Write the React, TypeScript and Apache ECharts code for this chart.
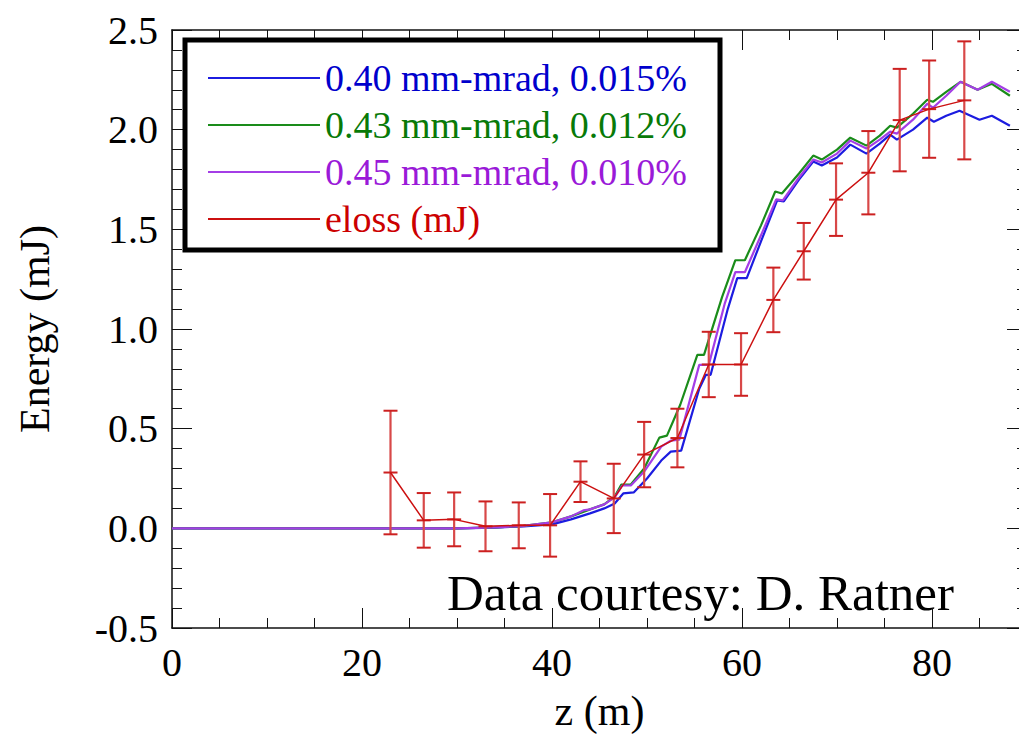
import React, { useEffect, useRef } from "react";
import * as echarts from "echarts";

const xTickLabels = ["0", "20", "40", "60", "80"];

// 0.40 mm-mrad, 0.015%
const zBlue = [0, 30, 34, 37, 40, 42, 44, 45.5, 46.6, 47.5, 48.6, 50.0, 51.5, 52.5, 53.6, 55.5, 56.2, 56.7, 58.5, 59.5, 60.5, 62.0, 63.7, 64.4, 66.0, 67.5, 68.4, 70.0, 71.4, 73.1, 74.5, 75.6, 76.3, 78.0, 79.5, 80.2, 81.5, 82.9, 85.0, 86.3, 88.2];
const eBlue = [0, 0, 0.004, 0.01, 0.02, 0.045, 0.075, 0.10, 0.125, 0.175, 0.18, 0.25, 0.34, 0.385, 0.39, 0.70, 0.77, 0.77, 1.10, 1.255, 1.255, 1.44, 1.645, 1.64, 1.75, 1.84, 1.82, 1.86, 1.925, 1.88, 1.93, 1.975, 1.95, 2.00, 2.06, 2.04, 2.07, 2.095, 2.05, 2.07, 2.02];

// 0.43 mm-mrad, 0.012%
const zGreen = [0, 30, 34, 37, 40, 42, 44, 45.5, 46.6, 47.3, 48.3, 49.7, 51.3, 52.1, 53.5, 55.3, 56.0, 57.9, 59.3, 60.3, 62.0, 63.5, 64.2, 66.0, 67.5, 68.4, 70.0, 71.4, 73.1, 74.5, 75.6, 76.3, 78.0, 79.5, 80.1, 81.5, 83.0, 84.8, 86.3, 88.2];
const eGreen = [0, 0, 0.005, 0.012, 0.03, 0.06, 0.095, 0.12, 0.16, 0.22, 0.22, 0.30, 0.455, 0.465, 0.62, 0.87, 0.87, 1.16, 1.345, 1.345, 1.52, 1.69, 1.68, 1.78, 1.87, 1.85, 1.90, 1.96, 1.92, 1.97, 2.02, 2.01, 2.08, 2.15, 2.14, 2.19, 2.24, 2.20, 2.23, 2.17];

// 0.45 mm-mrad, 0.010%
const zPurple = [0, 30, 34, 37, 40, 42, 43.3, 44.0, 45.5, 46.6, 47.4, 48.3, 49.7, 51.5, 52.5, 53.4, 55.5, 56.5, 58.2, 59.3, 60.3, 62.0, 63.6, 64.3, 66.0, 67.5, 68.4, 70.0, 71.4, 73.1, 74.5, 75.6, 76.3, 78.0, 79.5, 80.1, 81.5, 83.0, 84.8, 86.3, 88.2];
const ePurple = [0, 0, 0.005, 0.012, 0.03, 0.06, 0.09, 0.095, 0.12, 0.155, 0.215, 0.215, 0.285, 0.41, 0.44, 0.445, 0.82, 0.82, 1.13, 1.285, 1.285, 1.47, 1.65, 1.645, 1.76, 1.85, 1.835, 1.88, 1.945, 1.905, 1.95, 1.99, 1.98, 2.05, 2.13, 2.11, 2.17, 2.24, 2.20, 2.24, 2.19];

// eloss (mJ) with error bars
const zLoss = [23.0, 26.5, 29.7, 33.0, 36.5, 39.8, 43.0, 46.5, 49.7, 53.2, 56.5, 59.9, 63.3, 66.5, 69.9, 73.3, 76.6, 79.7, 83.4];
const eLoss = [0.28, 0.04, 0.045, 0.01, 0.015, 0.015, 0.234, 0.15, 0.37, 0.453, 0.822, 0.822, 1.146, 1.39, 1.649, 1.784, 2.048, 2.103, 2.147];
const errLoss = [0.31, 0.137, 0.135, 0.125, 0.115, 0.157, 0.102, 0.174, 0.164, 0.147, 0.164, 0.157, 0.162, 0.142, 0.182, 0.209, 0.257, 0.244, 0.296];

const names = ["0.40 mm-mrad, 0.015%", "0.43 mm-mrad, 0.012%", "0.45 mm-mrad, 0.010%", "eloss (mJ)"];
const lineColors = ["#1c1ce0", "#1a8c1a", "#a43ee6", "#cc1010"];
const textColors = ["#0000cc", "#087a08", "#9a1ad8", "#cc0000"];

const zip = (a: number[], b: number[]) => a.map((v, i) => [v, b[i]]);

const FONT = "Liberation Serif";

export default function App() {
  const ref = useRef<HTMLDivElement>(null);
  useEffect(() => {
    if (!ref.current) return;
    const chart = echarts.init(ref.current, undefined, { renderer: "svg" });
    const axisLine = { show: true, onZero: false, lineStyle: { color: "#111", width: 1.5 } };
    const xCommon = {
      type: "value" as const,
      min: 0,
      max: 90,
      interval: 20,
      axisLine,
      axisTick: { show: true, inside: true, length: 20, lineStyle: { color: "#111", width: 1 } },
      minorTick: { show: true, splitNumber: 4, length: 10, lineStyle: { color: "#111", width: 1 } },
      splitLine: { show: false },
      minorSplitLine: { show: false },
    };
    const yCommon = {
      type: "value" as const,
      min: -0.5,
      max: 2.5,
      interval: 0.5,
      axisLine,
      axisTick: { show: true, inside: true, length: 20, lineStyle: { color: "#111", width: 1 } },
      minorTick: { show: true, splitNumber: 5, length: 10, lineStyle: { color: "#111", width: 1 } },
      splitLine: { show: false },
      minorSplitLine: { show: false },
    };
    const errData = zLoss.map((z, i) => [z, eLoss[i], errLoss[i]]);
    chart.setOption({
      animation: false,
      backgroundColor: "#fff",
      grid: { left: 172, top: 30, right: 3, bottom: 104, containLabel: false },
      xAxis: [
        {
          ...xCommon,
          position: "bottom",
          name: "z (m)",
          nameLocation: "middle",
          nameGap: 62,
          nameTextStyle: { fontFamily: FONT, fontSize: 42, color: "#000" },
          axisLabel: {
            fontFamily: FONT,
            fontSize: 40,
            color: "#000",
            margin: 14,
            showMaxLabel: false,
            formatter: (v: number) => {
              const idx = Math.round(v / 20);
              return v % 20 === 0 && idx < xTickLabels.length ? xTickLabels[idx] : "";
            },
          },
        },
        { ...xCommon, position: "top", axisLabel: { show: false } },
      ],
      yAxis: [
        {
          ...yCommon,
          position: "left",
          name: "Energy (mJ)",
          nameLocation: "middle",
          nameGap: 116,
          nameTextStyle: { fontFamily: FONT, fontSize: 42, color: "#000" },
          axisLabel: {
            fontFamily: FONT,
            fontSize: 40,
            color: "#000",
            margin: 14,
            formatter: (v: number) => v.toFixed(1),
          },
        },
        { ...yCommon, position: "right", axisLabel: { show: false } },
      ],
      legend: {
        orient: "vertical",
        left: 185,
        top: 40,
        padding: [19, 33, 12, 23],
        itemGap: 9,
        itemWidth: 112,
        itemHeight: 2,
        itemTextGap: 20,
        icon: "rect",
        backgroundColor: "#fff",
        borderColor: "#000",
        borderWidth: 5,
        textStyle: { fontFamily: FONT, fontSize: 38 },
        data: names.map((n, i) => ({ name: n, textStyle: { color: textColors[i] } })),
      },
      series: [
        {
          name: names[0], type: "line", symbol: "none", data: zip(zBlue, eBlue),
          lineStyle: { color: lineColors[0], width: 2.2 }, itemStyle: { color: lineColors[0] }, z: 3,
        },
        {
          name: names[1], type: "line", symbol: "none", data: zip(zGreen, eGreen),
          lineStyle: { color: lineColors[1], width: 2.2 }, itemStyle: { color: lineColors[1] }, z: 3,
        },
        {
          name: names[2], type: "line", symbol: "none", data: zip(zPurple, ePurple),
          lineStyle: { color: lineColors[2], width: 2.2 }, itemStyle: { color: lineColors[2] }, z: 3,
        },
        {
          name: names[3], type: "line", symbol: "none", data: zip(zLoss, eLoss),
          lineStyle: { color: lineColors[3], width: 1.5 }, itemStyle: { color: lineColors[3] }, z: 4,
        },
        {
          name: "eloss error", type: "custom", data: errData, z: 4,
          encode: { x: 0, y: 1 },
          renderItem: (params: any, api: any) => {
            const x = api.value(0), y = api.value(1), e = api.value(2);
            const c = api.coord([x, y]);
            const t = api.coord([x, y + e]);
            const b = api.coord([x, y - e]);
            const w = 7;
            const bar = { stroke: "#d84848", lineWidth: 2.2 };
            const cap = { stroke: "#cc2020", lineWidth: 2 };
            return {
              type: "group",
              children: [
                { type: "line", shape: { x1: c[0], y1: t[1], x2: c[0], y2: b[1] }, style: bar },
                { type: "line", shape: { x1: c[0] - w, y1: t[1], x2: c[0] + w, y2: t[1] }, style: cap },
                { type: "line", shape: { x1: c[0] - w, y1: b[1], x2: c[0] + w, y2: b[1] }, style: cap },
                { type: "line", shape: { x1: c[0] - w, y1: c[1], x2: c[0] + w, y2: c[1] }, style: cap },
              ],
            };
          },
        },
      ],
      graphic: [
        {
          type: "text",
          left: 447,
          top: 567,
          style: { text: "Data courtesy: D. Ratner", fontFamily: FONT, fontSize: 51, fill: "#000" },
        },
      ],
    });
    return () => chart.dispose();
  }, []);
  return (
    <div style={{ position: "fixed", left: 0, top: 0, width: 1019, height: 737, overflow: "hidden", background: "#fff" }}>
      <div ref={ref} style={{ width: 1030, height: 737 }} />
    </div>
  );
}
